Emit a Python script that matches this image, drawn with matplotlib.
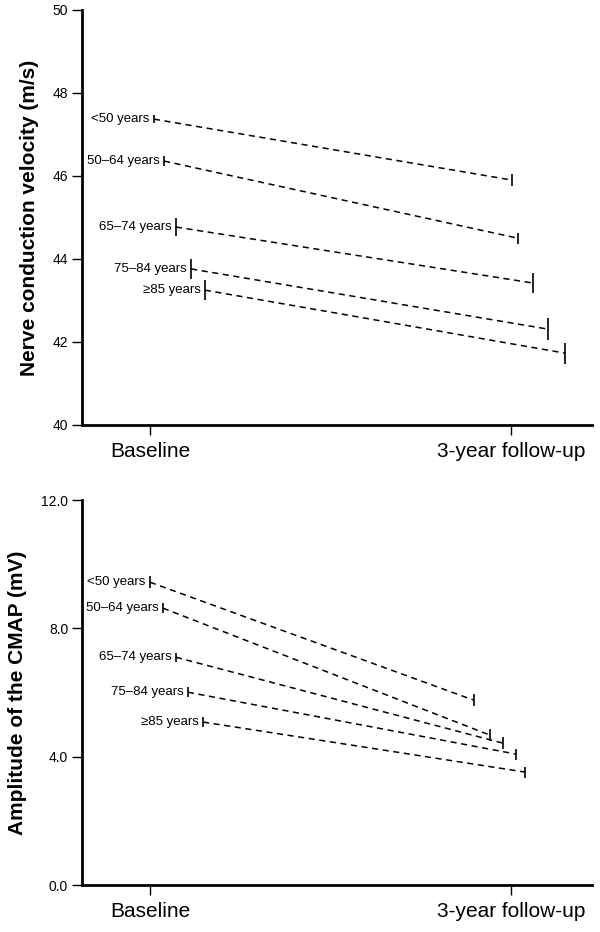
import matplotlib
matplotlib.use("Agg")
import matplotlib.pyplot as plt

plt.rcParams['font.family'] = ['Liberation Sans', 'DejaVu Sans']

groups = ['<50 years', '50\u201364 years', '65\u201374 years', '75\u201384 years', '\u226585 years']
timepoints = ['Baseline', '3-year follow-up']

# nerve conduction velocity (m/s)
ncv_base = [47.37, 46.36, 44.77, 43.76, 43.25]
ncv_follow = [45.90, 44.50, 43.42, 42.31, 41.73]
ncv_err_base = [0.10, 0.11, 0.22, 0.24, 0.24]
ncv_err_follow = [0.14, 0.13, 0.24, 0.26, 0.25]

# amplitude of the CMAP (mV)
cmap_base = [9.44, 8.63, 7.10, 6.01, 5.08]
cmap_follow = [5.76, 4.67, 4.42, 4.08, 3.52]
cmap_err_base = [0.18, 0.15, 0.14, 0.15, 0.15]
cmap_err_follow = [0.18, 0.18, 0.18, 0.17, 0.17]

# horizontal dodge of each group around the two time points
dodge_top = [(0.011, 0.003), (0.039, 0.019), (0.072, 0.061), (0.114, 0.102), (0.152, 0.150)]
dodge_bot = [(0.000, -0.103), (0.036, -0.058), (0.072, -0.022), (0.105, 0.014), (0.147, 0.039)]

fig = plt.figure(figsize=(6, 9.32), dpi=100)
ax1 = fig.add_axes([0.1367, 0.544, 0.85, 0.4453])
ax2 = fig.add_axes([0.1367, 0.0504, 0.85, 0.4131])


def draw(ax, base, follow, eb, ef, dodge, ylim, yticks, yfmt, ylabel):
    for i, g in enumerate(groups):
        xs = [0 + dodge[i][0], 1 + dodge[i][1]]
        ys = [base[i], follow[i]]
        ax.plot(xs, ys, color='black', lw=1.1, ls=(0, (4, 3)))
        ax.errorbar(xs, ys, yerr=[eb[i], ef[i]], fmt='none', ecolor='black',
                    elinewidth=1.2, capsize=0)
        ax.annotate(g, (xs[0], ys[0]), xytext=(-3, 0), textcoords='offset points',
                    ha='right', va='center', fontsize=9.5)
    ax.set_xlim(-0.188, 1.224)
    ax.set_ylim(*ylim)
    ax.set_yticks(yticks)
    ax.set_yticklabels([yfmt.format(v) for v in yticks], fontsize=10)
    ax.set_xticks([0, 1])
    ax.set_xticklabels(timepoints, fontsize=15)
    ax.set_ylabel(ylabel, fontsize=15, fontweight='bold', labelpad=10)
    for s in ['top', 'right']:
        ax.spines[s].set_visible(False)
    for s in ['left', 'bottom']:
        ax.spines[s].set_linewidth(2)
    ax.tick_params(axis='y', length=7, width=1, pad=3)
    ax.tick_params(axis='x', length=7, width=1, pad=5)


draw(ax1, ncv_base, ncv_follow, ncv_err_base, ncv_err_follow, dodge_top,
     (40, 50), [40, 42, 44, 46, 48, 50], '{:.0f}', 'Nerve conduction velocity (m/s)')
draw(ax2, cmap_base, cmap_follow, cmap_err_base, cmap_err_follow, dodge_bot,
     (0, 12), [0, 4, 8, 12], '{:.1f}', 'Amplitude of the CMAP (mV)')

fig.savefig('out.png', dpi=100)
